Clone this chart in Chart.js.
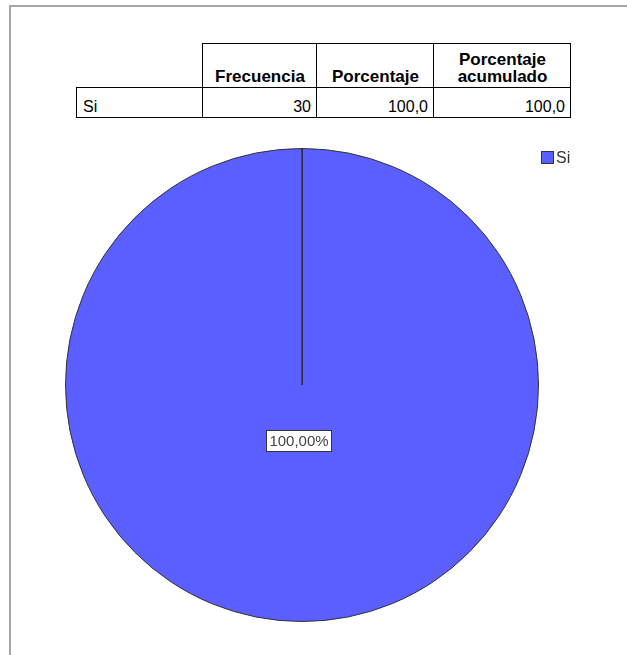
<!DOCTYPE html>
<html>
<head>
<meta charset="utf-8">
<script src="https://cdn.jsdelivr.net/npm/chart.js@4.4.0/dist/chart.umd.min.js"></script>
<style>
  html, body { margin: 0; background: #fff; overflow: hidden; font-family: "Liberation Sans", Arial, sans-serif; }
  #frame { position: absolute; left: 9px; top: 5px; width: 630px; height: 670px;
           border-left: 2px solid #a6a6a6; border-top: 2px solid #a6a6a6; }
  #tbl { position: absolute; left: 76px; top: 43px; border-collapse: collapse; font-size: 16px; color: #000; }
  #tbl td, #tbl th { padding: 0 5px 1px 6px; box-sizing: border-box; }
  #tbl th { font-size: 17px; font-weight: bold; text-align: center; vertical-align: bottom; height: 44px; line-height: 17px;
            border: 1.5px solid #000; padding-bottom: 2px; }
  #tbl th.blank { border-top: none; border-left: none; }
  #tbl td { text-align: right; height: 30px; vertical-align: bottom; border: 1.5px solid #000; }
  #tbl td.cat { text-align: left; }
  #wrap { position: absolute; left: 0; top: 0; width: 627px; height: 655px; }
  #legend { position: absolute; left: 541px; top: 149px; font-size: 16px; color: #333; }
  #legend span.box { display: inline-block; width: 11px; height: 11px; border: 1px solid #333;
                     vertical-align: -1px; margin-right: 2px; }
</style>
</head>
<body>
<div id="frame"></div>
<table id="tbl">
  <tr id="head"></tr>
</table>
<div id="wrap"><canvas id="pieChart"></canvas></div>
<div id="legend"></div>
<script>
// data from the frequency table
const categories = ['Si'];
const frecuencia = [30];
const porcentaje = [100.0];
const acumulado = [100.0];
const headers = ['', 'Frecuencia', 'Porcentaje', 'Porcentaje<br>acumulado'];
const colWidths = [126, 114, 117, 137];
const sliceColors = ['#5b5fff'];

// build the table
const tbl = document.getElementById('tbl');
const head = document.getElementById('head');
headers.forEach((h, i) => {
    const th = document.createElement('th');
    th.innerHTML = h;
    th.style.width = colWidths[i] + 'px';
    if (i === 0) th.className = 'blank';
    head.appendChild(th);
});
categories.forEach((c, i) => {
    const tr = document.createElement('tr');
    const fmt = v => v.toFixed(1).replace('.', ',');
    [c, frecuencia[i], fmt(porcentaje[i]), fmt(acumulado[i])].forEach((v, j) => {
        const td = document.createElement('td');
        td.textContent = v;
        if (j === 0) td.className = 'cat';
        tr.appendChild(td);
    });
    tbl.appendChild(tr);
});

// legend
const legend = document.getElementById('legend');
categories.forEach((c, i) => {
    legend.innerHTML += '<span class="box" style="background:' + sliceColors[i] + '"></span>' + c;
});

// radial edge line + percentage label
const sliceExtras = {
    id: 'sliceExtras',
    afterDatasetsDraw(chart) {
        const ctx = chart.ctx;
        const meta = chart.getDatasetMeta(0);
        const total = frecuencia.reduce((a, b) => a + b, 0);
        meta.data.forEach((arc, i) => {
            const p = arc.getProps(['x', 'y', 'startAngle', 'endAngle', 'outerRadius']);
            ctx.save();
            ctx.strokeStyle = '#333';
            ctx.lineWidth = 1;
            ctx.beginPath();
            ctx.moveTo(Math.round(p.x) + 0.5, p.y);
            ctx.lineTo(Math.round(p.x + p.outerRadius * Math.cos(p.startAngle)) + 0.5,
                       p.y + p.outerRadius * Math.sin(p.startAngle));
            ctx.stroke();

            const mid = (p.startAngle + p.endAngle) / 2;
            const lx = p.x + p.outerRadius * 0.235 * Math.cos(mid) - 3;
            const ly = p.y + p.outerRadius * 0.235 * Math.sin(mid);
            const txt = (frecuencia[i] / total * 100).toFixed(2).replace('.', ',') + '%';
            ctx.font = '15px "Liberation Sans", Arial, sans-serif';
            const w = ctx.measureText(txt).width + 6;
            const h = 21;
            ctx.fillStyle = '#fff';
            ctx.fillRect(Math.round(lx - w / 2) + 0.5, Math.round(ly - h / 2) + 0.5, Math.round(w), h);
            ctx.strokeStyle = '#333';
            ctx.strokeRect(Math.round(lx - w / 2) + 0.5, Math.round(ly - h / 2) + 0.5, Math.round(w), h);
            ctx.fillStyle = '#444';
            ctx.textAlign = 'center';
            ctx.textBaseline = 'middle';
            ctx.fillText(txt, lx, ly + 1);
            ctx.restore();
        });
    }
};

const ctx = document.getElementById('pieChart').getContext('2d');
new Chart(ctx, {
    type: 'pie',
    data: {
        labels: categories,
        datasets: [{
            data: frecuencia,
            backgroundColor: sliceColors,
            borderColor: '#333',
            borderWidth: 1
        }]
    },
    options: {
        responsive: true,
        maintainAspectRatio: false,
        animation: false,
        layout: { padding: { left: 65, top: 148, right: 88, bottom: 33 } },
        plugins: {
            legend: { display: false },
            tooltip: { enabled: false }
        }
    },
    plugins: [sliceExtras]
});
</script>
</body>
</html>
